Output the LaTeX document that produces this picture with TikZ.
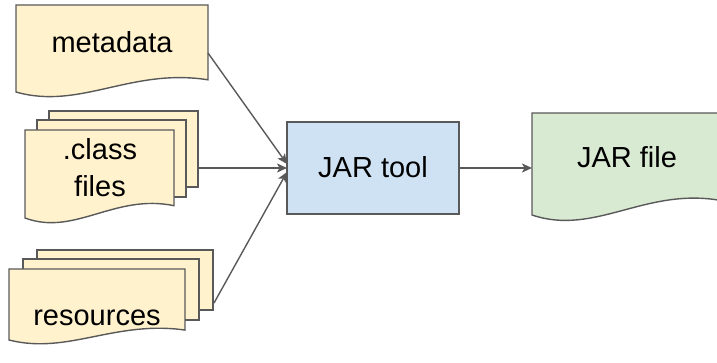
\documentclass[tikz,border=0pt]{standalone}
\usepackage{fontspec}
\setmainfont{Liberation Sans}
\usetikzlibrary{arrows.meta}
\definecolor{docfill}{HTML}{FFF2CC}
\definecolor{toolfill}{HTML}{CFE2F3}
\definecolor{jarfill}{HTML}{D9EAD3}
\definecolor{edge}{HTML}{595959}
\newcommand{\docshape}[6]{% fill, x0, x1, ytop, ybottom-left, H
  \fill[#1] (#2,#4) -- (#3,#4) -- (#3,#5-0.14*#6)
    .. controls ({#2+0.6*(#3-#2)},{#5-0.28*#6}) and ({#2+0.333*(#3-#2)},{#5+0.21*#6}) .. (#2,#5) -- cycle;
  \draw[outline] (#2,#4) -- (#3,#4) -- (#3,#5-0.14*#6)
    .. controls ({#2+0.6*(#3-#2)},{#5-0.28*#6}) and ({#2+0.333*(#3-#2)},{#5+0.21*#6}) .. (#2,#5) -- cycle;
}
\begin{document}
\begin{tikzpicture}[x=1pt,y=-1pt,
  outline/.style={draw=edge,line width=1.4pt,line join=miter},
  pagebox/.style={outline,fill=docfill},
  label/.style={font=\fontsize{29}{37}\selectfont,text=black,inner sep=0pt,align=center},
  conn/.style={draw=edge,line width=1.4pt,-{Stealth[length=10pt,width=9pt,inset=2.5pt]}}]
\useasboundingbox (0,0) rectangle (717,363);
\begin{scope}
\clip (0,0) rectangle (717,363);
% metadata
\docshape{docfill}{16}{208}{5}{92}{87}
\node[label,anchor=base] (meta) at (112,53) {metadata};
% .class files
\draw[pagebox] (49,111) rectangle (198,187);
\draw[pagebox] (37,120) rectangle (186,197);
\docshape{docfill}{25}{174}{130}{218}{88}
\node[label,anchor=base] (cls) at (100,197) {.class\\files};
% resources
\draw[pagebox] (37,250) rectangle (213,310);
\draw[pagebox] (23,259) rectangle (199,320);
\docshape{docfill}{9}{185}{269}{340}{71}
\node[label,anchor=base] (res) at (97,325) {resources};
% JAR tool
\node[outline,fill=toolfill,minimum width=172pt,minimum height=92pt,inner sep=0pt] (tool) at (373,168) {};
\node[label,anchor=base] (tooltext) at (373,178) {JAR tool};
% JAR file
\docshape{jarfill}{532}{722}{113}{215}{102}
\node[label,anchor=base] (jar) at (627,168) {JAR file};
\end{scope}
% connectors
\coordinate (metaout) at (208,53);
\coordinate (clsout) at (198,168);
\coordinate (resout) at (214,303);
\coordinate (in1) at (287,164);
\coordinate (in2) at (287,168);
\coordinate (in3) at (287,172);
\coordinate (jarin) at (532,168);
\draw[conn] (metaout) -- (in1);
\draw[conn] (clsout) -- (in2);
\draw[conn] (resout) -- (in3);
\draw[conn] (tool.east) -- (jarin);
\end{tikzpicture}
\end{document}
